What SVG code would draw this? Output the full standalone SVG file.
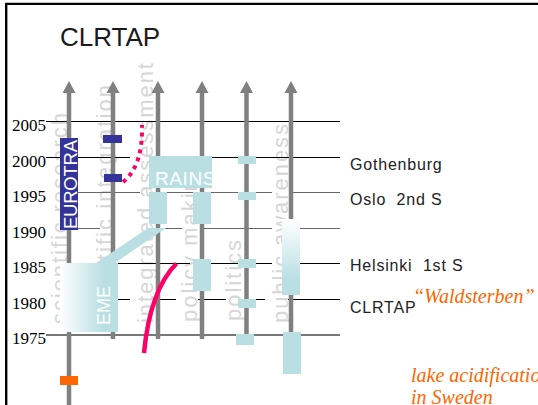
<svg xmlns="http://www.w3.org/2000/svg" width="538" height="405" viewBox="0 0 538 405">
<style>
.yr{font-family:"Liberation Serif","Times New Roman",serif;font-size:17px;fill:#000}
.vl{font-family:"Liberation Sans",Arial,sans-serif;font-size:22px;fill:#d6d6d6}
.lb{font-family:"Liberation Sans",Arial,sans-serif;font-size:16px;fill:#222;letter-spacing:0.8px}
.wt{font-family:"Liberation Sans",Arial,sans-serif;fill:#fff}
.or{font-family:"Liberation Serif","Times New Roman",serif;font-style:italic;font-size:20px;fill:#ff6600}
.ln{stroke:#000;stroke-width:1;fill:none}
.lg{stroke:#666;stroke-width:1;fill:none}
.sh{stroke:#808080;stroke-width:4.5;fill:none}
.ah{fill:#808080}
.tl{fill:#b9dfe3}
.bl{fill:#333399}
.pk{stroke:#ff0066;fill:none}
</style>
<defs>
<polygon id="head" points="0,0 6.5,12 -6.5,12"/>
<linearGradient id="gEme" x1="0" y1="0" x2="1" y2="0">
<stop offset="0" stop-color="#ffffff"/>
<stop offset="0.75" stop-color="#b9dfe3"/>
</linearGradient>
<linearGradient id="gPub" x1="0" y1="0" x2="0" y2="1">
<stop offset="0" stop-color="#ffffff"/>
<stop offset="0.8" stop-color="#b9dfe3"/>
</linearGradient>
<clipPath id="cRains"><rect x="149" y="156" width="63" height="32"/></clipPath>
</defs>
<rect width="538" height="405" fill="#fff"/>
<path d="M6.2,405 V3.9 H538" stroke="#000" stroke-width="2.4" fill="none"/>
<text x="60" y="46" font-family="'Liberation Sans',Arial,sans-serif" font-size="26" fill="#1a1a1a">CLRTAP</text>

<g id="labels-vertical">
<text class="vl" transform="translate(67,324) rotate(-90)" textLength="211" lengthAdjust="spacing">scientific research</text>
<text class="vl" transform="translate(112,322) rotate(-90)" textLength="237" lengthAdjust="spacing">scientific integration</text>
<text class="vl" transform="translate(153,323) rotate(-90)" textLength="260" lengthAdjust="spacing">integrated assessment</text>
<text class="vl" transform="translate(197,322) rotate(-90)" textLength="157" lengthAdjust="spacing">policy making</text>
<text class="vl" transform="translate(241,321) rotate(-90)" textLength="81" lengthAdjust="spacing">politics</text>
<text class="vl" transform="translate(288,323) rotate(-90)" textLength="199" lengthAdjust="spacing">public awareness</text>
</g>

<g id="years">
<text class="yr" x="12" y="131">2005</text>
<text class="yr" x="12" y="166.5">2000</text>
<text class="yr" x="12" y="202">1995</text>
<text class="yr" x="12" y="237.5">1990</text>
<text class="yr" x="12" y="273">1985</text>
<text class="yr" x="12" y="308.5">1980</text>
<text class="yr" x="12" y="343.5">1975</text>
</g>

<g id="grid">
<path class="ln" d="M46,121.5 H340"/>
<path class="ln" d="M46,157.5 H60 M78,157.5 H130 M212,157.5 H340"/>
<path class="lg" d="M78,192.5 H140 M167,192.5 H193 M211,192.5 H272 M293,192.5 H340"/>
<path class="lg" stroke="#888" d="M78,228.5 H100 M163,228.5 H182 M202,228.5 H272 M300,228.5 H340"/>
<path class="ln" d="M67,263.5 H95 M115,263.5 H190 M211,263.5 H272 M300,263.5 H340"/>
<path class="ln" d="M115,299.5 H130 M160,299.5 H176 M198,299.5 H226 M256,299.5 H265 M288,299.5 H340"/>
<path stroke="#777" stroke-width="2" fill="none" d="M46,335 H340"/>
</g>

<g id="connectors">
<path class="sh" d="M69,92 V405"/>
<path class="sh" d="M113,92 V339"/>
<path class="sh" d="M158,92 V339"/>
<path class="sh" d="M202,92 V339"/>
<path class="sh" d="M246.5,92 V342"/>
<path class="sh" d="M291,92 V334"/>
<use href="#head" class="ah" x="69" y="81"/>
<use href="#head" class="ah" x="113" y="81"/>
<use href="#head" class="ah" x="158" y="81"/>
<use href="#head" class="ah" x="202" y="81"/>
<use href="#head" class="ah" x="246.5" y="81"/>
<use href="#head" class="ah" x="291" y="81"/>
</g>

<g id="eurotra">
<rect class="bl" x="60" y="138" width="18" height="92"/>
<text class="wt" font-size="18.5" transform="translate(77,229) rotate(-90)" textLength="89" lengthAdjust="spacing">EUROTRA</text>
</g>

<g id="integration-marks">
<rect class="bl" x="103" y="135" width="19" height="8"/>
<rect class="bl" x="104" y="174" width="18" height="8"/>
</g>

<g id="eme">
<polygon class="tl" points="95.5,263.5 114,263.5 166,228 148,228"/>
<rect x="60" y="263" width="58" height="69" fill="url(#gEme)"/>
<text class="wt" font-size="18" transform="translate(110,325) rotate(-90)">EME</text>
</g>

<g id="rains">
<rect class="tl" x="149" y="156" width="63" height="32"/>
<text class="wt" font-size="19" x="155" y="185" letter-spacing="0.6" clip-path="url(#cRains)">RAINS</text>
<rect class="tl" x="149" y="192" width="18" height="32"/>
</g>

<g id="policy-boxes">
<rect class="tl" x="193" y="192" width="18" height="32"/>
<rect class="tl" x="193" y="259" width="18" height="32"/>
</g>

<g id="politics-boxes">
<rect class="tl" x="238" y="156" width="18" height="8"/>
<rect class="tl" x="238" y="192" width="18" height="8"/>
<rect class="tl" x="238" y="259" width="18" height="9"/>
<rect class="tl" x="238" y="299" width="18" height="9"/>
<rect class="tl" x="236" y="334" width="18" height="11"/>
</g>

<g id="awareness-boxes">
<rect x="282" y="219" width="18" height="76" fill="url(#gPub)"/>
<rect class="tl" x="283" y="332" width="18" height="42"/>
</g>

<g id="research-mark">
<rect fill="#ff6600" x="60" y="376" width="18" height="9"/>
</g>

<g id="curves">
<path class="pk" stroke-width="4" stroke-dasharray="4 4.5" d="M123,182 Q143,166 142,125"/>
<path class="pk" stroke-width="4.5" d="M144,353 Q150,290 176.5,263.5"/>
</g>

<g id="events">
<text class="lb" x="350" y="170">Gothenburg</text>
<text class="lb" x="350" y="205">Oslo&#160;&#160;2nd S</text>
<text class="lb" x="350" y="271">Helsinki&#160;&#160;1st S</text>
<text class="lb" x="350" y="312.5" letter-spacing="0.3">CLRTAP</text>
<text class="or" x="413" y="303">“Waldsterben”</text>
<text class="or" x="411" y="381.5">lake acidification</text>
<text class="or" x="411" y="403.5">in Sweden</text>
</g>
</svg>
